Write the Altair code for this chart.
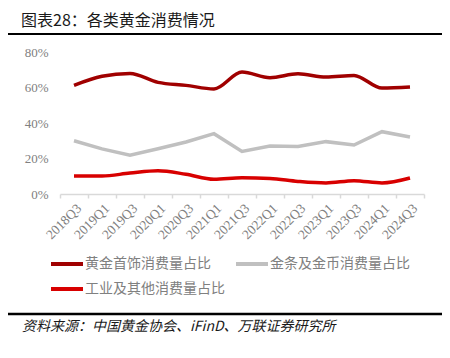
import altair as alt
import pandas as pd

quarters = ["2018Q3", "2019Q1", "2019Q3", "2020Q1", "2020Q3", "2021Q1", "2021Q3",
            "2022Q1", "2022Q3", "2023Q1", "2023Q3", "2024Q1", "2024Q3"]
jewelry = [61.2, 66.3, 67.9, 62.9, 61.2, 59.2, 68.7, 65.5, 67.7, 65.9, 66.8, 59.7, 60.3]
bars_coins = [30.0, 25.4, 21.8, 25.5, 29.3, 34.0, 24.0, 27.0, 26.8, 29.5, 27.6, 35.1, 32.1]
industrial = [10.1, 10.1, 11.8, 13.1, 11.1, 8.3, 9.2, 8.8, 7.1, 6.2, 7.5, 6.2, 9.0]

series_names = ["黄金首饰消费量占比", "金条及金币消费量占比", "工业及其他消费量占比"]
series_colors = ["#A00000", "#C0C0C0", "#D80000"]
# legend is laid out column by column: column 1 = jewelry, industrial; column 2 = bars
legend_order = [series_names[0], series_names[2], series_names[1]]
legend_colors = [series_colors[0], series_colors[2], series_colors[1]]
y_ticks = [0, 20, 40, 60, 80]

title_text = "图表28：各类黄金消费情况"
source_text = "资料来源：中国黄金协会、iFinD、万联证券研究所"

rows = []
for name, vals in zip(series_names, [jewelry, bars_coins, industrial]):
    for q, v in zip(quarters, vals):
        rows.append({"quarter": q, "value": v, "series": name})
df = pd.DataFrame(rows)

W, H = 364, 142
SERIF = "Liberation Serif, Times New Roman, serif"
CJK = "Noto Sans CJK SC"

x_enc = alt.X("quarter:O", sort=quarters, title=None,
              scale=alt.Scale(type="band", paddingInner=0, paddingOuter=0),
              axis=alt.Axis(tickBand="extent", labelAngle=-45, labelFont=SERIF,
                            labelFontSize=13.5, labelColor="#808080", labelPadding=3,
                            domainColor="#D9D9D9", domainWidth=1.5, tickColor="#D9D9D9",
                            tickWidth=1.5, tickSize=4, grid=False))
y_enc = alt.Y("value:Q", title=None,
              scale=alt.Scale(domain=[0, 80], nice=False),
              axis=alt.Axis(values=y_ticks, labelExpr="datum.value + '%'", labelFont=SERIF,
                            labelFontSize=13, labelColor="#808080", labelPadding=12,
                            domain=False, ticks=False, grid=False))
color_enc = alt.Color("series:N", title=None,
                      scale=alt.Scale(domain=legend_order, range=legend_colors),
                      legend=alt.Legend(orient="none", legendX=-3, legendY=202, columns=2,
                                        symbolType="M-2,0H2", symbolSize=256,
                                        symbolStrokeWidth=4, labelFont=CJK, labelFontSize=14,
                                        labelColor="#808080", labelOffset=8,
                                        columnPadding=3, rowPadding=7, labelLimit=300))

base = alt.Chart(df)
smooth = base.transform_filter(
    alt.FieldOneOfPredicate(field="series", oneOf=[series_names[0], series_names[2]])
).mark_line(strokeWidth=3.5, interpolate="monotone").encode(x=x_enc, y=y_enc, color=color_enc)
straight = base.transform_filter(
    alt.FieldEqualPredicate(field="series", equal=series_names[1])
).mark_line(strokeWidth=3.5).encode(x=x_enc, y=y_enc, color=color_enc)

deco = alt.Chart(pd.DataFrame({"k": [0]}))
top_rule = deco.mark_rule(color="#000000", strokeWidth=2).encode(
    x=alt.value(-52), x2=alt.value(382), y=alt.value(-46))
mid_rule = deco.mark_rule(color="#000000", strokeWidth=2).encode(
    x=alt.value(-52), x2=alt.value(382), y=alt.value(-18))
bot_rule = deco.mark_rule(color="#000000", strokeWidth=2.5).encode(
    x=alt.value(-52), x2=alt.value(382), y=alt.value(262))
title = deco.mark_text(align="left", baseline="middle", font=CJK, fontSize=16,
                       color="#1a1a1a").encode(
    x=alt.value(-39), y=alt.value(-31), text=alt.value(title_text))
source = deco.mark_text(align="left", baseline="middle", font=CJK, fontSize=14,
                        fontStyle="italic", color="#1a1a1a").encode(
    x=alt.value(-38), y=alt.value(275), text=alt.value(source_text))

chart = alt.layer(straight, smooth, top_rule, mid_rule, bot_rule, title, source).properties(
    width=W, height=H,
    autosize=alt.AutoSizeParams(type="none"),
    padding={"left": 52, "top": 44, "right": 18, "bottom": 156},
).configure_view(stroke=None)

chart.save("out.html", embed_options={"renderer": "svg", "actions": False})
